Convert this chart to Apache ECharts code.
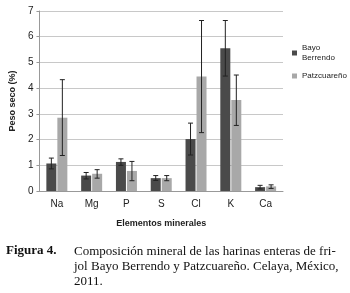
<!DOCTYPE html>
<html>
<head>
<meta charset="utf-8">
<script src="https://cdn.jsdelivr.net/npm/echarts@6/dist/echarts.min.js"></script>
<style>
  html, body { margin: 0; padding: 0; background: #fff; }
  #chart { width: 350px; height: 293px; }
</style>
</head>
<body>
<div id="chart"></div>
<script>
const elementos = ["Na", "Mg", "P", "S", "Cl", "K", "Ca"];
const bayoBerrendo = [1.07, 0.6, 1.13, 0.5, 2.02, 5.55, 0.15];
const bayoLow = [0.86, 0.47, 1.0, 0.41, 1.4, 4.47, 0.08];
const bayoHigh = [1.28, 0.72, 1.25, 0.6, 2.64, 6.63, 0.22];
const patzcuareno = [2.85, 0.67, 0.78, 0.5, 4.45, 3.54, 0.18];
const patzLow = [1.38, 0.5, 0.4, 0.4, 2.27, 2.55, 0.1];
const patzHigh = [4.33, 0.83, 1.15, 0.6, 6.63, 4.51, 0.24];
const yTicks = [0, 1, 2, 3, 4, 5, 6, 7];

const sans = "'Liberation Sans', Arial, sans-serif";
const chart = echarts.init(document.getElementById("chart"));

function errorSeries(low, high, offset) {
  return {
    type: "custom",
    silent: true,
    z: 10,
    data: elementos.map(function (e, i) { return [i, low[i], high[i]]; }),
    renderItem: function (params, api) {
      const lo = api.coord([api.value(0), api.value(1)]);
      const hi = api.coord([api.value(0), api.value(2)]);
      const x = lo[0] + offset;
      const cap = 2.5;
      const style = { stroke: "#222", lineWidth: 1 };
      return {
        type: "group",
        children: [
          { type: "line", shape: { x1: x, y1: lo[1], x2: x, y2: hi[1] }, style: style },
          { type: "line", shape: { x1: x - cap, y1: lo[1], x2: x + cap, y2: lo[1] }, style: style },
          { type: "line", shape: { x1: x - cap, y1: hi[1], x2: x + cap, y2: hi[1] }, style: style }
        ]
      };
    }
  };
}

const option = {
  animation: false,
  backgroundColor: "#fff",
  textStyle: { fontFamily: sans },
  grid: { left: 33, right: 67, top: 11, bottom: 102 },
  legend: {
    orient: "vertical",
    left: 287,
    top: 38,
    itemWidth: 5,
    itemHeight: 5,
    itemGap: 8,
    textStyle: { fontSize: 8, color: "#222", lineHeight: 10, fontFamily: sans },
    data: [
      { name: "Bayo\nBerrendo", icon: "rect" },
      { name: "Patzcuareño", icon: "rect" }
    ]
  },
  xAxis: {
    type: "category",
    data: elementos,
    name: "Elementos minerales",
    nameLocation: "middle",
    nameGap: 28,
    nameTextStyle: { fontSize: 9, fontWeight: "bold", color: "#222", fontFamily: sans },
    axisLine: { lineStyle: { color: "#999" } },
    axisTick: { length: 3, lineStyle: { color: "#999" } },
    axisLabel: { fontSize: 10, color: "#222", margin: 8, fontFamily: sans }
  },
  yAxis: {
    type: "value",
    min: 0,
    max: 7,
    interval: 1,
    name: "Peso seco (%)",
    nameLocation: "middle",
    nameGap: 21,
    nameTextStyle: { fontSize: 9, fontWeight: "bold", color: "#222", fontFamily: sans },
    axisLine: { show: true, lineStyle: { color: "#999" } },
    axisTick: { show: true, length: 3, lineStyle: { color: "#999" } },
    axisLabel: {
      fontSize: 10, color: "#222", margin: 6, fontFamily: sans,
      formatter: function (v) { return yTicks.indexOf(v) >= 0 ? String(v) : ""; }
    },
    splitLine: { lineStyle: { color: "#c8c8c8" } }
  },
  series: [
    {
      name: "Bayo\nBerrendo",
      type: "bar",
      data: bayoBerrendo,
      barWidth: 10,
      barGap: "10%",
      itemStyle: { color: "#4a4a4a" }
    },
    {
      name: "Patzcuareño",
      type: "bar",
      data: patzcuareno,
      barWidth: 10,
      barGap: "10%",
      itemStyle: { color: "#a8a8a8" }
    },
    errorSeries(bayoLow, bayoHigh, -5.5),
    errorSeries(patzLow, patzHigh, 5.5)
  ],
  graphic: [
    {
      type: "text", left: 6, top: 244,
      style: { text: "Figura 4.", font: "bold 13px 'Liberation Serif', serif", fill: "#111" }
    },
    {
      type: "text", left: 74, top: 244,
      style: {
        text: "Composición mineral de las harinas enteras de fri-\njol Bayo Berrendo y Patzcuareño. Celaya, México,\n2011.",
        font: "13px 'Liberation Serif', serif",
        lineHeight: 15,
        fill: "#111"
      }
    }
  ]
};

chart.setOption(option);
</script>
</body>
</html>
